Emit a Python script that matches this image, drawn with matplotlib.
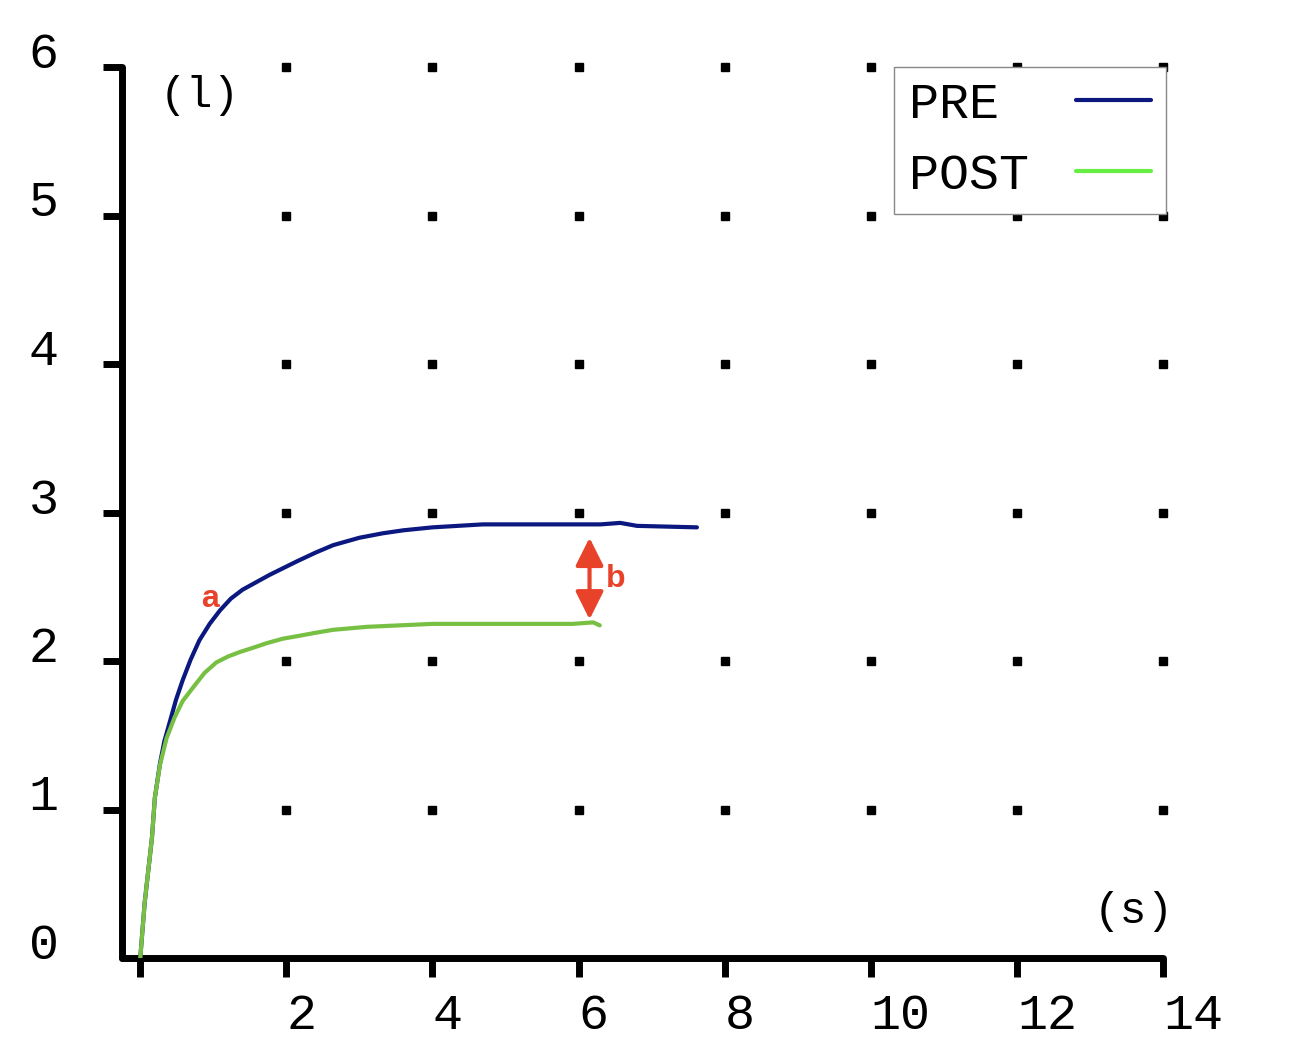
"""PRE vs POST curves, redrawn
"""

import matplotlib
matplotlib.use("Agg")
import matplotlib.pyplot as plt
from matplotlib.lines import Line2D
from matplotlib.patches import FancyArrowPatch
from matplotlib.transforms import ScaledTranslation
import numpy as np

# data
pre_x = [0, 0.06, 0.16, 0.20, 0.27, 0.33, 0.41, 0.49, 0.58, 0.69, 0.81, 0.95,
         1.09, 1.24, 1.40, 1.77, 2.14, 2.40, 2.64, 3.00, 3.32, 3.60, 4.00,
         4.69, 5.20, 5.84, 6.30, 6.57, 6.80, 7.62]
pre_y = [0, 0.37, 0.81, 1.08, 1.31, 1.46, 1.60, 1.74, 1.87, 2.01, 2.14, 2.25,
         2.34, 2.42, 2.48, 2.58, 2.67, 2.73, 2.78, 2.83, 2.86, 2.88, 2.90,
         2.92, 2.92, 2.92, 2.92, 2.93, 2.91, 2.90]

post_x = [0, 0.06, 0.16, 0.20, 0.27, 0.36, 0.47, 0.58, 0.72, 0.88, 1.04, 1.20,
          1.36, 1.55, 1.73, 1.95, 2.18, 2.40, 2.64, 3.10, 3.55, 4.00, 4.47,
          5.20, 5.92, 6.20, 6.29]
post_y = [0, 0.37, 0.81, 1.08, 1.30, 1.48, 1.62, 1.73, 1.82, 1.92, 1.99, 2.03,
          2.06, 2.09, 2.12, 2.15, 2.17, 2.19, 2.21, 2.23, 2.24, 2.25, 2.25,
          2.25, 2.25, 2.26, 2.24]

x_ticks = [0, 2, 4, 6, 8, 10, 12, 14]
x_labels = ["", "2", "4", "6", "8", "10", "12", "14"]
y_ticks = [0, 1, 2, 3, 4, 5, 6]
y_labels = ["0", "1", "2", "3", "4", "5", "6"]
series_names = ["PRE", "POST"]

gap_x = 6.15          # where the "b" arrow sits
gap_top, gap_bottom = 2.83, 2.28

pre_color = "#0a1880"
post_color = "#78c043"
post_legend_color = "#66ee44"
red = "#e8432a"
mono = ["Liberation Mono", "DejaVu Sans Mono"]

fig = plt.figure(figsize=(12.94, 10.58), dpi=100)
ax = fig.add_axes([122 / 1294, 100 / 1058, (1163 - 122) / 1294, (991 - 100) / 1058])

# dotted grid: one square dot at each tick crossing
gx, gy = np.meshgrid(x_ticks[1:], y_ticks[1:])
ax.plot(gx.ravel(), gy.ravel(), ls="none", marker="s", ms=5.5, color="black",
        zorder=1, clip_on=False)

ax.plot(pre_x, pre_y, color=pre_color, lw=3, solid_capstyle="round",
        solid_joinstyle="round", zorder=3)
ax.plot(post_x, post_y, color=post_color, lw=3, solid_capstyle="round",
        solid_joinstyle="round", zorder=3)

arrow = FancyArrowPatch((gap_x, gap_bottom), (gap_x, gap_top),
                        arrowstyle="<|-|>,head_length=17,head_width=8.5",
                        mutation_scale=1, shrinkA=0, shrinkB=0,
                        color=red, lw=3, zorder=4)
ax.add_patch(arrow)
ax.text(6.51, 2.55, "b", color=red, fontsize=23, fontweight="bold",
        family="Liberation Sans", ha="center", va="center")
ax.text(0.95, 2.42, "a", color=red, fontsize=23, fontweight="bold",
        family="Liberation Sans", ha="center", va="center")

ax.text(0.81, 5.81, "(l)", fontsize=32, family=mono, ha="center", va="center")
ax.text(13.6, 0.31, "(s)", fontsize=32, family=mono, ha="center", va="center")

ax.set_xlim(-0.25, 14)
ax.set_ylim(0, 6)
for side in ["top", "right"]:
    ax.spines[side].set_visible(False)
for side in ["left", "bottom"]:
    ax.spines[side].set_linewidth(5)
    ax.spines[side].set_capstyle("round")

ax.set_xticks(x_ticks, x_labels)
ax.set_yticks(y_ticks, y_labels)
ax.tick_params(direction="out", length=13.5, width=5, labelsize=36,
               color="black")
ax.tick_params(axis="x", pad=12)
ax.tick_params(axis="y", pad=32)
ax.yaxis.get_major_ticks()[0].tick1line.set_visible(False)

for lab in ax.get_xticklabels():
    lab.set_family(mono)
    lab.set_ha("left")
for lab in ax.get_yticklabels():
    lab.set_family(mono)
    lab.set_transform(lab.get_transform()
                      + ScaledTranslation(0, 0.17, fig.dpi_scale_trans))

# pad names to the same width so the monospace labels line up on the left
width = max(len(s) for s in series_names)
handles = [Line2D([], [], color=pre_color, lw=3, solid_capstyle="round"),
           Line2D([], [], color=post_legend_color, lw=3, solid_capstyle="round")]
leg = ax.legend(handles, [s.ljust(width) for s in series_names],
                loc="upper right", bbox_to_anchor=(1.003, 1.0), borderaxespad=0,
                markerfirst=False, fancybox=False, framealpha=1,
                edgecolor="#888888", handlelength=1.5, handletextpad=0.95,
                labelspacing=0.5, borderpad=0.3,
                prop={"family": mono, "size": 36})
leg.get_frame().set_linewidth(1)
leg.set_zorder(5)

fig.savefig("out.png", dpi=100)
